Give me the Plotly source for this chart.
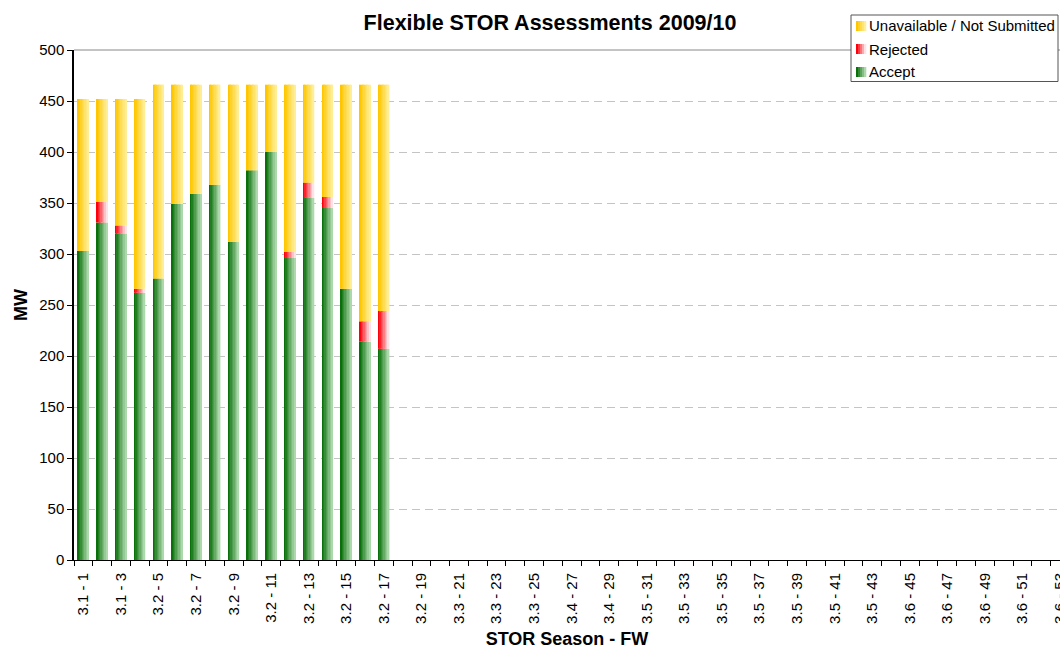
import plotly.graph_objects as go

# ---- data ----
season_of_week = (["3.1"] * 4 + ["3.2"] * 16 + ["3.3"] * 5 + ["3.4"] * 5 +
                  ["3.5"] * 13 + ["3.6"] * 10)
weeks = list(range(1, 54))
categories = [f"{s} - {w}" for s, w in zip(season_of_week, weeks)]

accept = [303, 331, 320, 262, 276, 349, 359, 368, 312, 382, 400, 296, 355, 345, 266, 214, 207]
rejected = [0, 20, 8, 4, 0, 0, 0, 0, 0, 0, 0, 6, 15, 11, 0, 20, 37]
unavailable = [149, 101, 124, 186, 190, 117, 107, 98, 154, 84, 66, 164, 96, 110, 200, 232, 222]

series_names = ["Accept", "Rejected", "Unavailable / Not Submitted"]

n_data = len(accept)
cats_data = categories[:n_data]
base_rej = list(accept)
base_una = [a + r for a, r in zip(accept, rejected)]

# gradient colours (left -> right)
grad = {
    "Accept": ((10, 112, 10), (172, 216, 172)),
    "Rejected": ((255, 0, 10), (255, 226, 230)),
    "Unavailable / Not Submitted": ((255, 198, 0), (255, 238, 150)),
}


def lerp(c1, c2, t):
    return "rgb(%d,%d,%d)" % tuple(round(a + (b - a) * t) for a, b in zip(c1, c2))


series = [
    ("Accept", accept, [0] * n_data),
    ("Rejected", rejected, base_rej),
    ("Unavailable / Not Submitted", unavailable, base_una),
]

# layout geometry (pixels)
W_FIG, H_FIG = 1060, 649
ML, MR, MT, MB = 74, 0, 50, 89
PW, PH = W_FIG - ML - MR, H_FIG - MT - MB


def px_x(p):
    return (p - ML) / PW


def px_y(p):
    return (H_FIG - MB - p) / PH


N = 8
W = 0.58
fig = go.Figure()
for name, vals, base in series:
    c1, c2 = grad[name]
    for k in range(N):
        t = k / (N - 1)
        fig.add_trace(go.Bar(
            x=cats_data, y=vals, base=base,
            width=W / N + 0.004, offset=-W / 2 + k * W / N,
            marker=dict(color=lerp(c1, c2, t), line=dict(width=0)),
            name=name, showlegend=False, hoverinfo="skip",
        ))

# invisible trace so that every category is on the axis
fig.add_trace(go.Bar(x=categories, y=[None] * len(categories), showlegend=False, hoverinfo="skip"))

font = "Liberation Sans, Arial, sans-serif"

shapes = [dict(type="line", xref="paper", yref="paper", x0=0, x1=1, y0=1, y1=1,
               line=dict(color="#888888", width=1))]
annotations = []

# manual legend (box, gradient swatches, labels)
shapes.append(dict(type="rect", xref="paper", yref="paper",
                   x0=px_x(851), x1=px_x(1058), y0=px_y(15), y1=px_y(81.5),
                   fillcolor="white", line=dict(color="#555555", width=1), layer="above"))
legend_order = ["Unavailable / Not Submitted", "Rejected", "Accept"]
for i, name in enumerate(legend_order):
    cy = 26 + 23 * i
    c1, c2 = grad[name]
    ns = 5
    for k in range(ns):
        x0 = 856 + k * 10 / ns
        shapes.append(dict(type="rect", xref="paper", yref="paper",
                           x0=px_x(x0), x1=px_x(x0 + 10 / ns + 0.3),
                           y0=px_y(cy - 5), y1=px_y(cy + 5),
                           fillcolor=lerp(c1, c2, k / (ns - 1)),
                           line=dict(width=0), layer="above"))
    annotations.append(dict(xref="paper", yref="paper", x=px_x(867), y=px_y(cy),
                            text=name, showarrow=False, xanchor="left", yanchor="middle",
                            font=dict(size=15, family=font, color="black")))

fig.update_layout(
    width=W_FIG, height=H_FIG,
    barmode="overlay",
    plot_bgcolor="white", paper_bgcolor="white",
    margin=dict(l=ML, r=MR, t=MT, b=MB, autoexpand=False),
    font=dict(family=font, size=15, color="black"),
    title=dict(text="<b>Flexible STOR Assessments 2009/10</b>", x=550 / W_FIG, xanchor="center",
               y=1 - 22 / H_FIG, yanchor="middle", font=dict(size=21.5, family=font)),
    showlegend=False,
    shapes=shapes,
    annotations=annotations,
)
fig.update_xaxes(
    type="category", categoryorder="array", categoryarray=categories,
    range=[-0.5, 52.0],
    tickson="boundaries", dtick=1, ticklabelstep=2,
    ticks="outside", ticklen=5, tickcolor="black",
    tickangle=-90, tickfont=dict(size=15), ticklabelstandoff=6,
    showline=True, linecolor="black", linewidth=1,
    showgrid=False, automargin=False,
    title=dict(text="<b>STOR Season - FW</b>", font=dict(size=18), standoff=20),
)
fig.update_yaxes(
    range=[0, 500], dtick=50,
    ticks="outside", ticklen=5, tickcolor="black",
    showline=True, linecolor="black", linewidth=1.5,
    showgrid=True, gridcolor="#c4c4c4", griddash="8px,5px", gridwidth=1,
    zeroline=False, automargin=False,
    tickfont=dict(size=15),
    title=dict(text="<b>MW</b>", font=dict(size=18), standoff=7),
)

fig.write_html("out.html", config={"displayModeBar": False},
               post_script="document.body.style.margin='0';")
